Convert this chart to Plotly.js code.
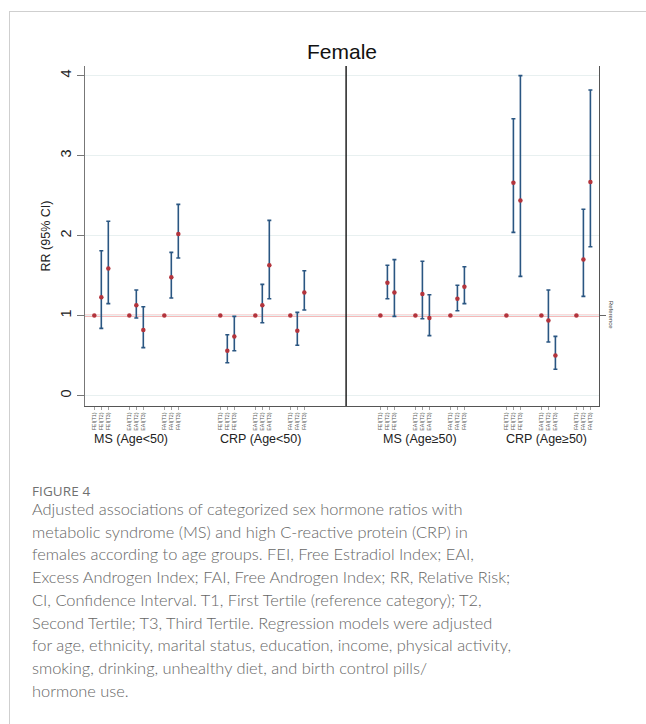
<!DOCTYPE html>
<html>
<head>
<meta charset="utf-8">
<script src="https://cdn.plot.ly/plotly-3.0.1.min.js"></script>
<style>
  html, body { margin: 0; padding: 0; background: #fff; width: 646px; height: 724px; overflow: hidden; }
  #card { position: absolute; left: 9px; top: 11px; width: 637px; height: 713px;
          border-left: 1px solid #cfcfcf; border-top: 1px solid #cfcfcf; box-sizing: border-box; }
  #chart { position: absolute; left: 0; top: 0; width: 646px; height: 470px; }
  #figlabel { position: absolute; left: 32px; top: 482px; font-family: "Open Sans", Lato, sans-serif;
              font-size: 13.5px; color: #707070; letter-spacing: 0.1px; }
  #caption { position: absolute; left: 32px; top: 498px; font-family: Lato, "Open Sans", sans-serif;
             font-weight: 300; font-size: 16.4px; line-height: 22.7px; color: #666; white-space: nowrap; }
</style>
</head>
<body>
<div id="card"></div>
<div id="chart"></div>
<div id="figlabel">FIGURE 4</div>
<div id="caption">Adjusted associations of categorized sex hormone ratios with<br>metabolic syndrome (MS) and high C-reactive protein (CRP) in<br>females according to age groups. FEI, Free Estradiol Index; EAI,<br>Excess Androgen Index; FAI, Free Androgen Index; RR, Relative Risk;<br>CI, Confidence Interval. T1, First Tertile (reference category); T2,<br>Second Tertile; T3, Third Tertile. Regression models were adjusted<br>for age, ethnicity, marital status, education, income, physical activity,<br>smoking, drinking, unhealthy diet, and birth control pills/<br>hormone use.</div>
<script>
// ---- data ----
const panelLabels = ["MS (Age<50)", "CRP (Age<50)", "MS (Age\u226550)", "CRP (Age\u226550)"];
const indexNames = ["FEI", "EAI", "FAI"];
const tertiles = ["T1", "T2", "T3"];

// RR per panel, order: FEI T1-T3, EAI T1-T3, FAI T1-T3
const rrMSyoung  = [1, 1.23, 1.59, 1, 1.13, 0.82, 1, 1.48, 2.02];
const loMSyoung  = [null, 0.84, 1.15, null, 0.97, 0.60, null, 1.22, 1.72];
const hiMSyoung  = [null, 1.81, 2.18, null, 1.32, 1.11, null, 1.79, 2.39];

const rrCRPyoung = [1, 0.56, 0.74, 1, 1.13, 1.63, 1, 0.81, 1.29];
const loCRPyoung = [null, 0.41, 0.56, null, 0.91, 1.21, null, 0.63, 1.07];
const hiCRPyoung = [null, 0.76, 0.99, null, 1.39, 2.19, null, 1.04, 1.56];

const rrMSold    = [1, 1.41, 1.29, 1, 1.27, 0.97, 1, 1.21, 1.36];
const loMSold    = [null, 1.21, 0.99, null, 0.96, 0.75, null, 1.06, 1.15];
const hiMSold    = [null, 1.63, 1.70, null, 1.68, 1.26, null, 1.38, 1.61];

const rrCRPold   = [1, 2.66, 2.44, 1, 0.94, 0.50, 1, 1.70, 2.67];
const loCRPold   = [null, 2.04, 1.49, null, 0.67, 0.33, null, 1.24, 1.86];
const hiCRPold   = [null, 3.46, 4.00, null, 1.32, 0.74, null, 2.33, 3.82];

const rrAll = [rrMSyoung, rrCRPyoung, rrMSold, rrCRPold];
const loAll = [loMSyoung, loCRPyoung, loMSold, loCRPold];
const hiAll = [hiMSyoung, hiCRPyoung, hiMSold, hiCRPold];

// ---- layout helpers (positions) ----
const panelStart = [1.33, 19.33, 42.2, 60.2];
const clusterStep = 5;
const dividerX = 37.3;

const xs = [], ys = [], ePlus = [], eMinus = [], tickVals = [], tickText = [];
const xsT1 = [], ysT1 = [];
rrAll.forEach((rr, p) => {
  rr.forEach((v, k) => {
    const ci = Math.floor(k / 3), ti = k % 3;
    const x = panelStart[p] + ci * clusterStep + ti;
    tickVals.push(x);
    tickText.push(indexNames[ci] + "(" + tertiles[ti] + ")");
    if (loAll[p][k] === null) {
      xsT1.push(x); ysT1.push(v);
    } else {
      xs.push(x); ys.push(v);
      ePlus.push(hiAll[p][k] - v);
      eMinus.push(v - loAll[p][k]);
    }
  });
});

const font = "Liberation Sans, Arial, sans-serif";
const blue = "#2a5682";
const red = "#b3343c";

const traces = [
  {
    type: "scatter", mode: "markers", x: xs, y: ys,
    marker: { color: red, size: 4.5, symbol: "circle" },
    error_y: { type: "data", symmetric: false, array: ePlus, arrayminus: eMinus,
               color: blue, thickness: 1.6, width: 2 },
    hoverinfo: "x+y", showlegend: false
  },
  {
    type: "scatter", mode: "markers", x: xsT1, y: ysT1,
    marker: { color: red, size: 4.5, symbol: "circle" },
    hoverinfo: "x+y", showlegend: false
  },
  {
    type: "scatter", mode: "markers", x: [1], y: [1], yaxis: "y2",
    marker: { opacity: 0 }, hoverinfo: "skip", showlegend: false
  }
];

const annotations = panelLabels.map((lab, p) => ({
  text: lab, x: panelStart[p] + clusterStep + 1, xref: "x",
  y: 0, yref: "paper", yanchor: "middle", yshift: -33, xshift: (p === 0 ? -5 : -2),
  showarrow: false, font: { family: font, size: 12.5, color: "#222" }
}));

const layout = {
  width: 646, height: 470,
  margin: { l: 85, r: 47, t: 66, b: 64 },
  paper_bgcolor: "rgba(0,0,0,0)",
  plot_bgcolor: "#fff",
  title: { text: "Female", font: { family: font, size: 21, color: "#111" },
           x: 0.5, xref: "paper", y: 1 - 52 / 470, yref: "container", yanchor: "middle" },
  xaxis: {
    range: [0, 514 / 7], tickmode: "array", tickvals: tickVals, ticktext: tickText,
    tickangle: -90, tickfont: { family: font, size: 5.3, color: "#555" },
    ticks: "outside", ticklen: 3, tickcolor: "#888", tickwidth: 0.8,
    showline: true, linecolor: "#555", linewidth: 1.3,
    showgrid: false, zeroline: false, fixedrange: true
  },
  yaxis: {
    range: [-0.13, 4.12], tickmode: "array", tickvals: [0, 1, 2, 3, 4],
    tickangle: -90, tickfont: { family: font, size: 14.5, color: "#222" },
    ticks: "outside", ticklen: 7, tickcolor: "#777", tickwidth: 1,
    showline: true, linecolor: "#777", linewidth: 1.3,
    showgrid: true, gridcolor: "#e8f0f0", gridwidth: 1, zeroline: false,
    title: { text: "RR (95% CI)", font: { family: font, size: 12.5, color: "#222" }, standoff: 4 },
    fixedrange: true
  },
  yaxis2: {
    overlaying: "y", side: "right", range: [-0.13, 4.12],
    tickmode: "array", tickvals: [1], ticktext: ["Reference"], tickangle: 90,
    tickfont: { family: font, size: 6, color: "#444" },
    ticks: "outside", ticklen: 6, tickcolor: "#666",
    showline: true, linecolor: "#555", linewidth: 1.3,
    showgrid: false, zeroline: false, fixedrange: true
  },
  shapes: [
    { type: "line", xref: "paper", x0: 0, x1: 1, yref: "y", y0: 1, y1: 1,
      line: { color: "rgba(232,90,90,0.85)", width: 1.8 }, layer: "below" },
    { type: "line", xref: "x", x0: dividerX, x1: dividerX, yref: "paper", y0: 0, y1: 1,
      line: { color: "#111", width: 1.4 } }
  ],
  annotations: annotations,
  showlegend: false
};

Plotly.newPlot("chart", traces, layout, { displayModeBar: false, staticPlot: true });
</script>
</body>
</html>
